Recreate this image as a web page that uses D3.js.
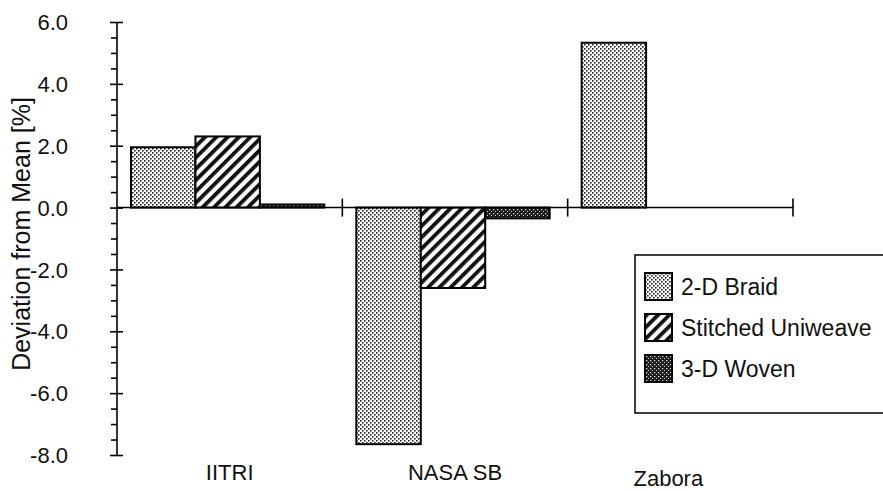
<!DOCTYPE html>
<html>
<head>
<meta charset="utf-8">
<script src="https://cdn.jsdelivr.net/npm/d3@7"></script>
<style>
  html, body { margin: 0; padding: 0; background: #fff; }
  svg { display: block; }
  text { font-family: "Liberation Sans", Arial, Helvetica, sans-serif; fill: #111; }
</style>
</head>
<body>
<svg id="chart" width="883" height="491"></svg>
<script>
// Deviation from the mean strength, per test laboratory and preform type
const categories = ["IITRI", "NASA SB", "Zabora"];
const seriesNames = ["2-D Braid", "Stitched Uniweave", "3-D Woven"];
const braidValues = [1.95, -7.65, 5.33];
const stitchedValues = [2.3, -2.6, null];
const wovenValues = [0.1, -0.35, null];
const yTickValues = [-8, -6, -4, -2, 0, 2, 4, 6];
const yTickLabels = ["-8.0", "-6.0", "-4.0", "-2.0", "0.0", "2.0", "4.0", "6.0"];

const seriesValues = [braidValues, stitchedValues, wovenValues];
const fills = ["url(#braid)", "url(#stitched)", "url(#woven)"];

const svg = d3.select("#chart");
const defs = svg.append("defs");

// fill textures: light stipple, diagonal hatch, dark stipple
const pBraid = defs.append("pattern").attr("id", "braid")
  .attr("patternUnits", "userSpaceOnUse").attr("width", 4).attr("height", 4);
pBraid.append("rect").attr("width", 4).attr("height", 4).attr("fill", "#fff");
pBraid.append("rect").attr("x", 0).attr("y", 0).attr("width", 1.6).attr("height", 1.6).attr("fill", "#222");
pBraid.append("rect").attr("x", 2).attr("y", 2).attr("width", 1.6).attr("height", 1.6).attr("fill", "#222");

const pStitch = defs.append("pattern").attr("id", "stitched")
  .attr("patternUnits", "userSpaceOnUse").attr("width", 8).attr("height", 8)
  .attr("patternTransform", "rotate(45)");
pStitch.append("rect").attr("width", 8).attr("height", 8).attr("fill", "#fff");
pStitch.append("rect").attr("x", 0).attr("y", 0).attr("width", 3.8).attr("height", 8).attr("fill", "#111");

const pWoven = defs.append("pattern").attr("id", "woven")
  .attr("patternUnits", "userSpaceOnUse").attr("width", 4).attr("height", 4);
pWoven.append("rect").attr("width", 4).attr("height", 4).attr("fill", "#1a1a1a");
pWoven.append("rect").attr("x", 1).attr("y", 1).attr("width", 1.3).attr("height", 1.3).attr("fill", "#ddd");
pWoven.append("rect").attr("x", 3).attr("y", 3).attr("width", 1.3).attr("height", 1.3).attr("fill", "#ddd");

// scales
const y = d3.scaleLinear().domain([-8, 6]).range([455, 22]);
const x0 = d3.scaleBand().domain(categories).range([117, 793]).padding(0);
const bw = x0.bandwidth();
const x1 = d3.scaleBand().domain(seriesNames).range([14, bw - 18]).padding(0);

// bars
const rows = [];
categories.forEach((c, i) => {
  seriesNames.forEach((s, j) => {
    const v = seriesValues[j][i];
    if (v !== null && v !== undefined) rows.push({ c, s, j, v });
  });
});

svg.append("g").selectAll("rect").data(rows).join("rect")
  .attr("x", d => x0(d.c) + x1(d.s))
  .attr("width", x1.bandwidth())
  .attr("y", d => y(Math.max(0, d.v)))
  .attr("height", d => Math.abs(y(d.v) - y(0)))
  .attr("fill", d => fills[d.j])
  .attr("stroke", "#000")
  .attr("stroke-width", 2);

// y axis: minor ticks every 0.5, labelled majors every 2
const minor = d3.range(-8, 6.01, 0.5).filter(v => Math.abs(v % 2) > 1e-9);
const yMinor = svg.append("g").attr("transform", "translate(117,0)")
  .call(d3.axisLeft(y).tickValues(minor).tickSize(6).tickFormat(""));
yMinor.select(".domain").remove();

const yAxis = svg.append("g").attr("transform", "translate(117,0)")
  .call(d3.axisLeft(y).tickValues(yTickValues).tickSize(7).tickPadding(42)
    .tickFormat((d, i) => yTickLabels[i]))
  .call(g => g.select(".domain").attr("d", `M0,${y(6)}V${y(-8)}`));
yAxis.selectAll(".tick line").attr("x2", -7).attr("x1", 6);
yAxis.selectAll(".tick text").style("font-size", "22px").attr("dy", "0.35em");
svg.selectAll(".domain, .tick line").attr("stroke", "#000").attr("stroke-width", 1.6);

// x axis along zero with separators between laboratories
const xAxisY = y(0);
svg.append("line")
  .attr("x1", 117).attr("x2", 793).attr("y1", xAxisY).attr("y2", xAxisY)
  .attr("stroke", "#000").attr("stroke-width", 1.6);
const separators = categories.map(c => x0(c) + bw);
svg.append("g").selectAll("line").data(separators).join("line")
  .attr("x1", d => d).attr("x2", d => d)
  .attr("y1", xAxisY - 9).attr("y2", xAxisY + 9)
  .attr("stroke", "#000").attr("stroke-width", 1.6);

// laboratory names
svg.append("g").selectAll("text").data(categories).join("text")
  .attr("x", (d, i) => x0(d) + bw / 2 - (i === 2 ? 12 : 0))
  .attr("y", (d, i) => i === 2 ? 486 : 480)
  .attr("text-anchor", "middle")
  .style("font-size", "22px")
  .text(d => d);

// y axis title
svg.append("text")
  .attr("transform", "translate(30,234) rotate(-90)")
  .attr("text-anchor", "middle")
  .style("font-size", "25px")
  .text("Deviation from Mean [%]");

// legend
const legend = svg.append("g");
legend.append("rect")
  .attr("x", 635).attr("y", 255).attr("width", 280).attr("height", 158)
  .attr("fill", "#fff").attr("stroke", "#000").attr("stroke-width", 1.5);
const items = legend.selectAll("g.item").data(seriesNames).join("g")
  .attr("class", "item")
  .attr("transform", (d, i) => `translate(645,${273 + i * 41})`);
items.append("rect")
  .attr("width", 27).attr("height", 27)
  .attr("fill", (d, i) => fills[i])
  .attr("stroke", "#000").attr("stroke-width", 2);
items.append("text")
  .attr("x", 36).attr("y", 22)
  .style("font-size", "23px")
  .text(d => d);
</script>
</body>
</html>
